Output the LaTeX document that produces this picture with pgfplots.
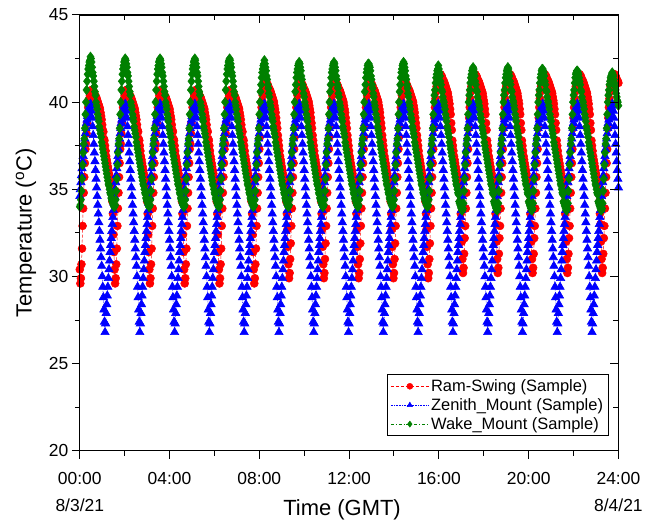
\documentclass[border=0pt]{standalone}
\usepackage{fontspec}
\setmainfont{Liberation Sans}
\usepackage{pgfplots}
\usepackage{pgfplotstable}
\pgfplotsset{compat=1.18}
\definecolor{ogreen}{RGB}{0,128,0}
\pgfplotstableread{
t r z w
0 30.4 34.6 34.0
1.5 29.6 35.0 34.1
3 29.9 35.4 34.4
4.5 30.7 35.8 34.9
6 31.6 36.2 35.6
7.5 32.9 36.6 36.4
9 33.9 36.9 37.1
10.5 34.8 37.3 37.6
12 35.7 37.6 37.9
13.5 36.5 37.9 38.5
15 37.3 38.2 39.3
16.5 37.6 38.5 40.0
18 38.2 38.8 40.7
19.5 38.8 39.0 41.2
21 39.3 39.2 41.6
22.5 39.7 39.4 41.9
24 40.0 39.6 42.1
25.5 40.2 39.7 42.3
27 40.4 39.8 42.4
28.5 40.5 39.9 42.6
30 40.6 39.8 42.5
31.5 40.7 39.5 42.3
33 40.7 39.1 42.0
34.5 40.7 38.6 41.7
36 40.6 38.1 41.5
37.5 40.6 37.6 41.2
39 40.5 37.1 40.9
40.5 40.4 36.6 40.6
42 40.3 36.1 40.4
43.5 40.3 35.6 40.0
45 40.2 35.1 39.8
46.5 40.1 34.6 39.6
48 40.0 34.1 39.3
49.5 39.9 33.6 39.1
51 39.8 33.1 38.9
52.5 39.7 32.6 38.6
54 39.6 32.1 38.4
55.5 39.4 31.6 38.2
57 39.2 31.1 38.0
58.5 39.0 30.6 37.7
60 38.7 30.0 37.5
61.5 38.4 29.4 37.3
63 38.3 28.8 37.1
64.5 37.9 28.1 36.9
66 37.8 27.4 36.7
67.5 37.5 26.8 36.5
69 37.2 27.3 36.3
70.5 36.9 27.9 36.1
72 36.7 28.4 35.9
73.5 36.5 28.9 35.7
75 36.3 29.4 35.5
76.5 36.1 29.9 35.3
78 35.9 30.4 35.2
79.5 35.7 30.9 35.0
81 35.5 31.4 34.8
82.5 35.3 31.8 34.7
84 35.1 32.2 34.5
85.5 34.8 32.6 34.4
87 34.3 33.0 34.3
88.5 33.6 33.4 34.2
90 32.4 33.8 34.1
91.5 31.4 34.2 34.0
93 30.4 34.6 34.0
94.5 29.6 35.0 34.1
96 29.9 35.4 34.4
97.5 30.7 35.8 34.9
99 31.6 36.2 35.6
100.5 32.9 36.6 36.4
102 33.9 36.9 37.1
103.5 34.8 37.3 37.6
105 35.7 37.6 37.9
106.5 36.5 37.9 38.5
108 37.3 38.2 39.3
109.5 37.6 38.5 40.0
111 38.2 38.8 40.7
112.5 38.8 39.0 41.2
114 39.3 39.2 41.6
115.5 39.7 39.4 41.9
117 40.0 39.6 42.1
118.5 40.2 39.7 42.3
120 40.4 39.8 42.4
121.5 40.5 39.9 42.5
123 40.6 39.8 42.4
124.5 40.7 39.5 42.2
126 40.7 39.1 42.0
127.5 40.7 38.6 41.7
129 40.6 38.1 41.5
130.5 40.6 37.6 41.2
132 40.5 37.1 40.9
133.5 40.4 36.6 40.6
135 40.3 36.1 40.4
136.5 40.3 35.6 40.0
138 40.2 35.1 39.8
139.5 40.1 34.6 39.6
141 40.0 34.1 39.3
142.5 39.9 33.6 39.1
144 39.8 33.1 38.9
145.5 39.7 32.6 38.6
147 39.6 32.1 38.4
148.5 39.4 31.6 38.2
150 39.2 31.1 38.0
151.5 39.0 30.6 37.7
153 38.7 30.0 37.5
154.5 38.4 29.4 37.3
156 38.3 28.8 37.1
157.5 37.9 28.1 36.9
159 37.8 27.4 36.7
160.5 37.5 26.8 36.5
162 37.2 27.3 36.3
163.5 36.9 27.9 36.1
165 36.7 28.4 35.9
166.5 36.5 28.9 35.7
168 36.3 29.4 35.5
169.5 36.1 29.9 35.3
171 35.9 30.4 35.2
172.5 35.7 30.9 35.0
174 35.5 31.4 34.8
175.5 35.3 31.8 34.7
177 35.1 32.2 34.5
178.5 34.8 32.6 34.4
180 34.3 33.0 34.3
181.5 33.6 33.4 34.2
183 32.4 33.8 34.1
184.5 31.4 34.2 34.0
186 30.4 34.6 34.0
187.5 29.6 35.0 34.1
189 29.9 35.4 34.4
190.5 30.7 35.8 34.9
192 31.6 36.2 35.6
193.5 32.9 36.6 36.4
195 33.9 36.9 37.1
196.5 34.8 37.3 37.6
198 35.7 37.6 37.9
199.5 36.5 37.9 38.5
201 37.3 38.2 39.3
202.5 37.6 38.5 40.0
204 38.2 38.8 40.7
205.5 38.8 39.0 41.2
207 39.3 39.2 41.6
208.5 39.7 39.4 41.9
210 40.0 39.6 42.1
211.5 40.2 39.7 42.3
213 40.4 39.8 42.4
214.5 40.5 39.9 42.5
216 40.6 39.8 42.4
217.5 40.7 39.5 42.2
219 40.7 39.1 42.0
220.5 40.7 38.6 41.7
222 40.6 38.1 41.5
223.5 40.6 37.6 41.2
225 40.5 37.1 40.9
226.5 40.4 36.6 40.6
228 40.3 36.1 40.4
229.5 40.3 35.6 40.0
231 40.2 35.1 39.8
232.5 40.1 34.6 39.6
234 40.0 34.1 39.3
235.5 39.9 33.6 39.1
237 39.8 33.1 38.9
238.5 39.7 32.6 38.6
240 39.6 32.1 38.4
241.5 39.4 31.6 38.2
243 39.2 31.1 38.0
244.5 39.0 30.6 37.7
246 38.7 30.0 37.5
247.5 38.4 29.4 37.3
249 38.3 28.8 37.1
250.5 37.9 28.1 36.9
252 37.8 27.4 36.7
253.5 37.5 26.8 36.5
255 37.2 27.3 36.3
256.5 36.9 27.9 36.1
258 36.7 28.4 35.9
259.5 36.5 28.9 35.7
261 36.3 29.4 35.5
262.5 36.1 29.9 35.3
264 35.9 30.4 35.2
265.5 35.7 30.9 35.0
267 35.5 31.4 34.8
268.5 35.3 31.8 34.7
270 35.1 32.2 34.5
271.5 34.8 32.6 34.4
273 34.3 33.0 34.3
274.5 33.6 33.4 34.2
276 32.4 33.8 34.1
277.5 31.4 34.2 34.0
279 30.4 34.6 34.0
280.5 29.6 35.0 34.1
282 29.9 35.4 34.4
283.5 30.7 35.8 34.9
285 31.6 36.2 35.6
286.5 32.9 36.6 36.4
288 33.9 36.9 37.1
289.5 34.8 37.3 37.6
291 35.7 37.6 37.9
292.5 36.5 37.9 38.5
294 37.3 38.2 39.3
295.5 37.6 38.5 40.0
297 38.2 38.8 40.7
298.5 38.8 39.0 41.2
300 39.3 39.2 41.6
301.5 39.7 39.4 41.9
303 40.0 39.6 42.1
304.5 40.2 39.7 42.3
306 40.4 39.8 42.4
307.5 40.5 39.9 42.5
309 40.6 39.8 42.4
310.5 40.7 39.5 42.2
312 40.7 39.1 42.0
313.5 40.7 38.6 41.7
315 40.6 38.1 41.5
316.5 40.6 37.6 41.2
318 40.5 37.1 40.9
319.5 40.4 36.6 40.6
321 40.3 36.1 40.4
322.5 40.3 35.6 40.0
324 40.2 35.1 39.8
325.5 40.1 34.6 39.6
327 40.0 34.1 39.3
328.5 39.9 33.6 39.1
330 39.8 33.1 38.9
331.5 39.7 32.6 38.6
333 39.6 32.1 38.4
334.5 39.4 31.6 38.2
336 39.2 31.1 38.0
337.5 39.0 30.6 37.7
339 38.7 30.0 37.5
340.5 38.4 29.4 37.3
342 38.3 28.8 37.1
343.5 37.9 28.1 36.9
345 37.8 27.4 36.7
346.5 37.5 26.8 36.5
348 37.2 27.3 36.3
349.5 36.9 27.9 36.1
351 36.7 28.4 35.9
352.5 36.5 28.9 35.7
354 36.3 29.4 35.5
355.5 36.1 29.9 35.3
357 35.9 30.4 35.2
358.5 35.7 30.9 35.0
360 35.5 31.4 34.8
361.5 35.3 31.8 34.7
363 35.1 32.2 34.5
364.5 34.8 32.6 34.4
366 34.3 33.0 34.3
367.5 33.6 33.4 34.2
369 32.4 33.8 34.1
370.5 31.4 34.2 34.0
372 30.4 34.6 34.0
373.5 29.6 35.0 34.1
375 29.9 35.4 34.4
376.5 30.7 35.8 34.9
378 31.6 36.2 35.6
379.5 32.9 36.6 36.4
381 33.9 36.9 37.1
382.5 34.8 37.3 37.6
384 35.7 37.6 37.9
385.5 36.5 37.9 38.5
387 37.3 38.2 39.3
388.5 37.6 38.5 40.0
390 38.2 38.8 40.7
391.5 38.8 39.0 41.2
393 39.3 39.2 41.6
394.5 39.7 39.4 41.9
396 40.0 39.6 42.1
397.5 40.2 39.7 42.3
399 40.4 39.8 42.4
400.5 40.5 39.9 42.5
402 40.6 39.8 42.4
403.5 40.7 39.5 42.2
405 40.7 39.1 42.0
406.5 40.7 38.6 41.7
408 40.6 38.1 41.5
409.5 40.6 37.6 41.2
411 40.5 37.1 40.9
412.5 40.4 36.6 40.6
414 40.3 36.1 40.4
415.5 40.3 35.6 40.0
417 40.2 35.1 39.8
418.5 40.1 34.6 39.6
420 40.0 34.1 39.3
421.5 39.9 33.6 39.1
423 39.8 33.1 38.9
424.5 39.7 32.6 38.6
426 39.6 32.1 38.4
427.5 39.4 31.6 38.2
429 39.2 31.1 38.0
430.5 39.0 30.6 37.7
432 38.7 30.0 37.5
433.5 38.4 29.4 37.3
435 38.3 28.8 37.1
436.5 37.9 28.1 36.9
438 37.8 27.4 36.7
439.5 37.5 26.8 36.5
441 37.2 27.3 36.3
442.5 36.9 27.9 36.1
444 36.7 28.4 35.9
445.5 36.5 28.9 35.7
447 36.3 29.4 35.5
448.5 36.1 29.9 35.3
450 35.9 30.4 35.2
451.5 35.7 30.9 35.0
453 35.5 31.4 34.8
454.5 35.3 31.8 34.7
456 35.1 32.2 34.5
457.5 34.8 32.6 34.4
459 34.3 33.0 34.3
460.5 33.6 33.4 34.2
462 32.4 33.8 34.1
463.5 31.4 34.2 34.0
465 30.4 34.6 34.0
466.5 29.6 35.0 34.1
468 29.9 35.4 34.4
469.5 30.7 35.8 34.9
471 31.6 36.2 35.6
472.5 32.9 36.6 36.4
474 33.9 36.9 37.1
475.5 34.8 37.3 37.6
477 35.7 37.6 37.9
478.5 36.5 37.9 38.5
480 37.3 38.2 39.3
481.5 38.0 38.5 40.0
483 38.6 38.8 40.6
484.5 39.2 39.0 41.0
486 39.7 39.2 41.4
487.5 40.1 39.4 41.7
489 40.4 39.6 41.9
490.5 40.6 39.7 42.1
492 40.8 39.8 42.2
493.5 40.9 39.9 42.4
495 41.0 39.8 42.2
496.5 41.1 39.5 42.0
498 41.1 39.1 41.8
499.5 41.1 38.6 41.5
501 41.0 38.1 41.3
502.5 41.0 37.6 41.0
504 40.9 37.1 40.8
505.5 40.8 36.6 40.5
507 40.7 36.1 40.3
508.5 40.7 35.6 40.0
510 40.6 35.1 39.8
511.5 40.5 34.6 39.6
513 40.4 34.1 39.3
514.5 40.3 33.6 39.1
516 40.2 33.1 38.9
517.5 40.1 32.6 38.6
519 40.0 32.1 38.4
520.5 39.8 31.6 38.2
522 39.6 31.1 38.0
523.5 39.4 30.6 37.7
525 39.1 30.0 37.5
526.5 38.8 29.4 37.3
528 38.5 28.8 37.1
529.5 38.1 28.1 36.9
531 37.8 27.4 36.7
532.5 37.5 26.8 36.5
534 37.2 27.3 36.3
535.5 36.9 27.9 36.1
537 36.7 28.4 35.9
538.5 36.5 28.9 35.7
540 36.3 29.4 35.5
541.5 36.1 29.9 35.3
543 35.9 30.4 35.2
544.5 35.7 30.9 35.0
546 35.5 31.4 34.8
547.5 35.3 31.8 34.7
549 35.1 32.2 34.5
550.5 34.8 32.6 34.4
552 34.3 33.0 34.3
553.5 33.6 33.4 34.2
555 32.7 33.8 34.1
556.5 31.7 34.2 34.0
558 30.7 34.6 34.0
559.5 29.9 35.0 34.1
561 30.2 35.4 34.4
562.5 31.0 35.8 34.9
564 31.9 36.2 35.6
565.5 32.9 36.6 36.4
567 33.9 36.9 37.1
568.5 34.8 37.3 37.6
570 35.7 37.6 37.9
571.5 36.5 37.9 38.5
573 37.3 38.2 39.3
574.5 38.0 38.5 40.0
576 38.6 38.8 40.6
577.5 39.2 39.0 41.0
579 39.7 39.2 41.4
580.5 40.1 39.4 41.7
582 40.4 39.6 41.9
583.5 40.6 39.7 42.1
585 40.8 39.8 42.2
586.5 40.9 39.9 42.3
588 41.0 39.8 42.2
589.5 41.1 39.5 42.0
591 41.1 39.1 41.8
592.5 41.1 38.6 41.5
594 41.0 38.1 41.3
595.5 41.0 37.6 41.0
597 40.9 37.1 40.8
598.5 40.8 36.6 40.5
600 40.7 36.1 40.3
601.5 40.7 35.6 40.0
603 40.6 35.1 39.8
604.5 40.5 34.6 39.6
606 40.4 34.1 39.3
607.5 40.3 33.6 39.1
609 40.2 33.1 38.9
610.5 40.1 32.6 38.6
612 40.0 32.1 38.4
613.5 39.8 31.6 38.2
615 39.6 31.1 38.0
616.5 39.4 30.6 37.7
618 39.1 30.0 37.5
619.5 38.8 29.4 37.3
621 38.5 28.8 37.1
622.5 38.1 28.1 36.9
624 37.8 27.4 36.7
625.5 37.5 26.8 36.5
627 37.2 27.3 36.3
628.5 36.9 27.9 36.1
630 36.7 28.4 35.9
631.5 36.5 28.9 35.7
633 36.3 29.4 35.5
634.5 36.1 29.9 35.3
636 35.9 30.4 35.2
637.5 35.7 30.9 35.0
639 35.5 31.4 34.8
640.5 35.3 31.8 34.7
642 35.1 32.2 34.5
643.5 34.8 32.6 34.4
645 34.3 33.0 34.3
646.5 33.6 33.4 34.2
648 32.7 33.8 34.1
649.5 31.7 34.2 34.0
651 30.7 34.6 34.0
652.5 29.9 35.0 34.1
654 30.2 35.4 34.4
655.5 31.0 35.8 34.9
657 31.9 36.2 35.6
658.5 32.9 36.6 36.4
660 33.9 36.9 37.1
661.5 34.8 37.3 37.6
663 35.7 37.6 37.9
664.5 36.5 37.9 38.5
666 37.3 38.2 39.3
667.5 38.0 38.5 40.0
669 38.6 38.8 40.6
670.5 39.2 39.0 41.0
672 39.7 39.2 41.4
673.5 40.1 39.4 41.7
675 40.4 39.6 41.9
676.5 40.6 39.7 42.1
678 40.8 39.8 42.2
679.5 40.9 39.9 42.3
681 41.0 39.8 42.2
682.5 41.1 39.5 42.0
684 41.1 39.1 41.8
685.5 41.1 38.6 41.5
687 41.0 38.1 41.3
688.5 41.0 37.6 41.0
690 40.9 37.1 40.8
691.5 40.8 36.6 40.5
693 40.7 36.1 40.3
694.5 40.7 35.6 40.0
696 40.6 35.1 39.8
697.5 40.5 34.6 39.6
699 40.4 34.1 39.3
700.5 40.3 33.6 39.1
702 40.2 33.1 38.9
703.5 40.1 32.6 38.6
705 40.0 32.1 38.4
706.5 39.8 31.6 38.2
708 39.6 31.1 38.0
709.5 39.4 30.6 37.7
711 39.1 30.0 37.5
712.5 38.8 29.4 37.3
714 38.5 28.8 37.1
715.5 38.1 28.1 36.9
717 37.8 27.4 36.7
718.5 37.5 26.8 36.5
720 37.2 27.3 36.3
721.5 36.9 27.9 36.1
723 36.7 28.4 35.9
724.5 36.5 28.9 35.7
726 36.3 29.4 35.5
727.5 36.1 29.9 35.3
729 35.9 30.4 35.2
730.5 35.7 30.9 35.0
732 35.5 31.4 34.8
733.5 35.3 31.8 34.7
735 35.1 32.2 34.5
736.5 34.8 32.6 34.4
738 34.3 33.0 34.3
739.5 33.6 33.4 34.2
741 32.7 33.8 34.1
742.5 31.7 34.2 34.0
744 30.7 34.6 34.0
745.5 29.9 35.0 34.1
747 30.2 35.4 34.4
748.5 31.0 35.8 34.9
750 31.9 36.2 35.6
751.5 32.9 36.6 36.4
753 33.9 36.9 37.1
754.5 34.8 37.3 37.6
756 35.7 37.6 37.9
757.5 36.5 37.9 38.5
759 37.3 38.2 39.3
760.5 38.0 38.5 40.0
762 38.6 38.8 40.6
763.5 39.2 39.0 41.0
765 39.7 39.2 41.4
766.5 40.1 39.4 41.7
768 40.4 39.6 41.9
769.5 40.6 39.7 42.1
771 40.8 39.8 42.2
772.5 40.9 39.9 42.2
774 41.0 39.8 42.1
775.5 41.1 39.5 42.0
777 41.1 39.1 41.8
778.5 41.1 38.6 41.5
780 41.0 38.1 41.3
781.5 41.0 37.6 41.0
783 40.9 37.1 40.8
784.5 40.8 36.6 40.5
786 40.7 36.1 40.3
787.5 40.7 35.6 40.0
789 40.6 35.1 39.8
790.5 40.5 34.6 39.6
792 40.4 34.1 39.3
793.5 40.3 33.6 39.1
795 40.2 33.1 38.9
796.5 40.1 32.6 38.6
798 40.0 32.1 38.4
799.5 39.8 31.6 38.2
801 39.6 31.1 38.0
802.5 39.4 30.6 37.7
804 39.1 30.0 37.5
805.5 38.8 29.4 37.3
807 38.5 28.8 37.1
808.5 38.1 28.1 36.9
810 37.8 27.4 36.7
811.5 37.5 26.8 36.5
813 37.2 27.3 36.3
814.5 36.9 27.9 36.1
816 36.7 28.4 35.9
817.5 36.5 28.9 35.7
819 36.3 29.4 35.5
820.5 36.1 29.9 35.3
822 35.9 30.4 35.2
823.5 35.7 30.9 35.0
825 35.5 31.4 34.8
826.5 35.3 31.8 34.7
828 35.1 32.2 34.5
829.5 34.8 32.6 34.4
831 34.3 33.0 34.3
832.5 33.6 33.4 34.2
834 32.7 33.8 34.1
835.5 31.7 34.2 34.0
837 30.7 34.6 34.0
838.5 29.9 35.0 34.1
840 30.2 35.4 34.4
841.5 31.0 35.8 34.9
843 31.9 36.2 35.6
844.5 32.9 36.6 36.4
846 33.9 36.9 37.1
847.5 34.8 37.3 37.6
849 35.7 37.6 37.9
850.5 36.5 37.9 38.5
852 37.3 38.2 39.3
853.5 38.0 38.5 40.0
855 38.6 38.8 40.6
856.5 39.2 39.0 41.0
858 39.7 39.2 41.4
859.5 40.1 39.4 41.7
861 40.4 39.6 41.9
862.5 40.6 39.7 42.1
864 40.8 39.8 42.2
865.5 40.9 39.9 42.3
867 41.0 39.8 42.2
868.5 41.1 39.5 42.0
870 41.1 39.1 41.8
871.5 41.1 38.6 41.5
873 41.0 38.1 41.3
874.5 41.0 37.6 41.0
876 40.9 37.1 40.8
877.5 40.8 36.6 40.5
879 40.7 36.1 40.3
880.5 40.7 35.6 40.0
882 40.6 35.1 39.8
883.5 40.5 34.6 39.6
885 40.4 34.1 39.3
886.5 40.3 33.6 39.1
888 40.2 33.1 38.9
889.5 40.1 32.6 38.6
891 40.0 32.1 38.4
892.5 39.8 31.6 38.2
894 39.6 31.1 38.0
895.5 39.4 30.6 37.7
897 39.1 30.0 37.5
898.5 38.8 29.4 37.3
900 38.5 28.8 37.1
901.5 38.1 28.1 36.9
903 37.8 27.4 36.7
904.5 37.5 26.8 36.5
906 37.2 27.3 36.3
907.5 36.9 27.9 36.1
909 36.7 28.4 35.9
910.5 36.5 28.9 35.7
912 36.3 29.4 35.5
913.5 36.1 29.9 35.3
915 35.9 30.4 35.2
916.5 35.7 30.9 35.0
918 35.5 31.4 34.8
919.5 35.3 31.8 34.7
921 35.1 32.2 34.5
922.5 34.8 32.6 34.4
924 34.3 33.0 34.3
925.5 33.6 33.4 34.2
927 32.7 33.8 34.1
928.5 31.7 34.2 34.0
930 30.7 34.6 34.0
931.5 29.9 35.0 34.1
933 30.2 35.4 34.4
934.5 31.0 35.8 34.9
936 31.9 36.2 35.6
937.5 32.9 36.6 36.4
939 33.9 36.9 37.1
940.5 34.8 37.3 37.6
942 35.7 37.6 37.9
943.5 36.5 37.9 38.5
945 37.3 38.2 39.3
946.5 38.5 38.5 40.0
948 39.1 38.8 40.4
949.5 39.7 39.0 40.7
951 40.2 39.2 41.1
952.5 40.6 39.4 41.4
954 40.9 39.6 41.6
955.5 41.1 39.7 41.8
957 41.3 39.8 41.9
958.5 41.4 39.9 42.1
960 41.5 39.8 41.9
961.5 41.6 39.5 41.7
963 41.6 39.1 41.5
964.5 41.6 38.6 41.2
966 41.5 38.1 41.0
967.5 41.5 37.6 40.7
969 41.4 37.1 40.6
970.5 41.3 36.6 40.3
972 41.2 36.1 40.1
973.5 41.2 35.6 40.0
975 41.1 35.1 39.8
976.5 41.0 34.6 39.6
978 40.9 34.1 39.3
979.5 40.8 33.6 39.1
981 40.7 33.1 38.9
982.5 40.6 32.6 38.6
984 40.5 32.1 38.4
985.5 40.3 31.6 38.2
987 40.1 31.1 38.0
988.5 39.9 30.6 37.7
990 39.6 30.0 37.5
991.5 39.3 29.4 37.3
993 38.8 28.8 37.1
994.5 38.4 28.1 36.9
996 37.8 27.4 36.7
997.5 37.5 26.8 36.5
999 37.2 27.3 36.3
1000.5 36.9 27.9 36.1
1002 36.7 28.4 35.9
1003.5 36.5 28.9 35.7
1005 36.3 29.4 35.5
1006.5 36.1 29.9 35.3
1008 35.9 30.4 35.2
1009.5 35.7 30.9 35.0
1011 35.5 31.4 34.8
1012.5 35.3 31.8 34.7
1014 35.1 32.2 34.3
1015.5 34.8 32.6 34.2
1017 34.3 33.0 34.1
1018.5 33.6 33.4 34.0
1020 33.0 33.8 33.9
1021.5 32.0 34.2 33.8
1023 31.0 34.6 33.8
1024.5 30.2 35.0 33.9
1026 30.5 35.4 34.2
1027.5 31.3 35.8 34.9
1029 32.2 36.2 35.6
1030.5 32.9 36.6 36.4
1032 33.9 36.9 37.1
1033.5 34.8 37.3 37.6
1035 35.7 37.6 37.9
1036.5 36.5 37.9 38.5
1038 37.3 38.2 39.3
1039.5 38.5 38.5 40.0
1041 39.1 38.8 40.4
1042.5 39.7 39.0 40.7
1044 40.2 39.2 41.1
1045.5 40.6 39.4 41.4
1047 40.9 39.6 41.6
1048.5 41.1 39.7 41.8
1050 41.3 39.8 41.9
1051.5 41.4 39.9 42.0
1053 41.5 39.8 41.9
1054.5 41.6 39.5 41.7
1056 41.6 39.1 41.5
1057.5 41.6 38.6 41.2
1059 41.5 38.1 41.0
1060.5 41.5 37.6 40.7
1062 41.4 37.1 40.6
1063.5 41.3 36.6 40.3
1065 41.2 36.1 40.1
1066.5 41.2 35.6 40.0
1068 41.1 35.1 39.8
1069.5 41.0 34.6 39.6
1071 40.9 34.1 39.3
1072.5 40.8 33.6 39.1
1074 40.7 33.1 38.9
1075.5 40.6 32.6 38.6
1077 40.5 32.1 38.4
1078.5 40.3 31.6 38.2
1080 40.1 31.1 38.0
1081.5 39.9 30.6 37.7
1083 39.6 30.0 37.5
1084.5 39.3 29.4 37.3
1086 38.8 28.8 37.1
1087.5 38.4 28.1 36.9
1089 37.8 27.4 36.7
1090.5 37.5 26.8 36.5
1092 37.2 27.3 36.3
1093.5 36.9 27.9 36.1
1095 36.7 28.4 35.9
1096.5 36.5 28.9 35.7
1098 36.3 29.4 35.5
1099.5 36.1 29.9 35.3
1101 35.9 30.4 35.2
1102.5 35.7 30.9 35.0
1104 35.5 31.4 34.8
1105.5 35.3 31.8 34.7
1107 35.1 32.2 34.3
1108.5 34.8 32.6 34.2
1110 34.3 33.0 34.1
1111.5 33.6 33.4 34.0
1113 33.0 33.8 33.9
1114.5 32.0 34.2 33.8
1116 31.0 34.6 33.8
1117.5 30.2 35.0 33.9
1119 30.5 35.4 34.2
1120.5 31.3 35.8 34.9
1122 32.2 36.2 35.6
1123.5 32.9 36.6 36.4
1125 33.9 36.9 37.1
1126.5 34.8 37.3 37.6
1128 35.7 37.6 37.9
1129.5 36.5 37.9 38.5
1131 37.3 38.2 39.3
1132.5 38.5 38.5 40.0
1134 39.1 38.8 40.4
1135.5 39.7 39.0 40.7
1137 40.2 39.2 41.1
1138.5 40.6 39.4 41.4
1140 40.9 39.6 41.6
1141.5 41.1 39.7 41.8
1143 41.3 39.8 41.9
1144.5 41.4 39.9 42.0
1146 41.5 39.8 41.9
1147.5 41.6 39.5 41.7
1149 41.6 39.1 41.5
1150.5 41.6 38.6 41.2
1152 41.5 38.1 41.0
1153.5 41.5 37.6 40.7
1155 41.4 37.1 40.6
1156.5 41.3 36.6 40.3
1158 41.2 36.1 40.1
1159.5 41.2 35.6 40.0
1161 41.1 35.1 39.8
1162.5 41.0 34.6 39.6
1164 40.9 34.1 39.3
1165.5 40.8 33.6 39.1
1167 40.7 33.1 38.9
1168.5 40.6 32.6 38.6
1170 40.5 32.1 38.4
1171.5 40.3 31.6 38.2
1173 40.1 31.1 38.0
1174.5 39.9 30.6 37.7
1176 39.6 30.0 37.5
1177.5 39.3 29.4 37.3
1179 38.8 28.8 37.1
1180.5 38.4 28.1 36.9
1182 37.8 27.4 36.7
1183.5 37.5 26.8 36.5
1185 37.2 27.3 36.3
1186.5 36.9 27.9 36.1
1188 36.7 28.4 35.9
1189.5 36.5 28.9 35.7
1191 36.3 29.4 35.5
1192.5 36.1 29.9 35.3
1194 35.9 30.4 35.2
1195.5 35.7 30.9 35.0
1197 35.5 31.4 34.8
1198.5 35.3 31.8 34.7
1200 35.1 32.2 34.3
1201.5 34.8 32.6 34.2
1203 34.3 33.0 34.1
1204.5 33.6 33.4 34.0
1206 33.0 33.8 33.9
1207.5 32.0 34.2 33.8
1209 31.0 34.6 33.8
1210.5 30.2 35.0 33.9
1212 30.5 35.4 34.2
1213.5 31.3 35.8 34.9
1215 32.2 36.2 35.6
1216.5 32.9 36.6 36.4
1218 33.9 36.9 37.1
1219.5 34.8 37.3 37.6
1221 35.7 37.6 37.9
1222.5 36.5 37.9 38.5
1224 37.3 38.2 39.3
1225.5 38.5 38.5 40.0
1227 39.1 38.8 40.4
1228.5 39.7 39.0 40.7
1230 40.2 39.2 41.1
1231.5 40.6 39.4 41.4
1233 40.9 39.6 41.6
1234.5 41.1 39.7 41.8
1236 41.3 39.8 41.9
1237.5 41.4 39.9 41.9
1239 41.5 39.8 41.8
1240.5 41.6 39.5 41.7
1242 41.6 39.1 41.5
1243.5 41.6 38.6 41.2
1245 41.5 38.1 41.0
1246.5 41.5 37.6 40.7
1248 41.4 37.1 40.6
1249.5 41.3 36.6 40.3
1251 41.2 36.1 40.1
1252.5 41.2 35.6 40.0
1254 41.1 35.1 39.8
1255.5 41.0 34.6 39.6
1257 40.9 34.1 39.3
1258.5 40.8 33.6 39.1
1260 40.7 33.1 38.9
1261.5 40.6 32.6 38.6
1263 40.5 32.1 38.4
1264.5 40.3 31.6 38.2
1266 40.1 31.1 38.0
1267.5 39.9 30.6 37.7
1269 39.6 30.0 37.5
1270.5 39.3 29.4 37.3
1272 38.8 28.8 37.1
1273.5 38.4 28.1 36.9
1275 37.8 27.4 36.7
1276.5 37.5 26.8 36.5
1278 37.2 27.3 36.3
1279.5 36.9 27.9 36.1
1281 36.7 28.4 35.9
1282.5 36.5 28.9 35.7
1284 36.3 29.4 35.5
1285.5 36.1 29.9 35.3
1287 35.9 30.4 35.2
1288.5 35.7 30.9 35.0
1290 35.5 31.4 34.8
1291.5 35.3 31.8 34.7
1293 35.1 32.2 34.3
1294.5 34.8 32.6 34.2
1296 34.3 33.0 34.1
1297.5 33.6 33.4 34.0
1299 33.0 33.8 33.9
1300.5 32.0 34.2 33.8
1302 31.0 34.6 33.8
1303.5 30.2 35.0 33.9
1305 30.5 35.4 34.2
1306.5 31.3 35.8 34.9
1308 32.2 36.2 35.6
1309.5 32.9 36.6 36.4
1311 33.9 36.9 37.1
1312.5 34.8 37.3 37.6
1314 35.7 37.6 37.9
1315.5 36.5 37.9 38.5
1317 37.3 38.2 39.3
1318.5 38.5 38.5 40.0
1320 39.1 38.8 40.4
1321.5 39.7 39.0 40.7
1323 40.2 39.2 41.1
1324.5 40.6 39.4 41.4
1326 40.9 39.6 41.6
1327.5 41.1 39.7 41.7
1329 41.3 39.8 41.8
1330.5 41.4 39.9 41.8
1332 41.5 39.8 41.7
1333.5 41.6 39.5 41.6
1335 41.6 39.1 41.4
1336.5 41.6 38.6 41.2
1338 41.5 38.1 41.0
1339.5 41.5 37.6 40.7
1341 41.4 37.1 40.6
1342.5 41.3 36.6 40.3
1344 41.2 36.1 40.1
1345.5 41.2 35.6 40.0
1347 41.1 35.1 39.8
1348.5 41.0 34.6 39.6
1350 40.9 34.1 39.3
1351.5 40.8 33.6 39.1
1353 40.7 33.1 38.9
1354.5 40.6 32.6 38.6
1356 40.5 32.1 38.4
1357.5 40.3 31.6 38.2
1359 40.1 31.1 38.0
1360.5 39.9 30.6 37.7
1362 39.6 30.0 37.5
1363.5 39.3 29.4 37.3
1365 38.8 28.8 37.1
1366.5 38.4 28.1 36.9
1368 37.8 27.4 36.7
1369.5 37.5 26.8 36.5
1371 37.2 27.3 36.3
1372.5 36.9 27.9 36.1
1374 36.7 28.4 35.9
1375.5 36.5 28.9 35.7
1377 36.3 29.4 35.5
1378.5 36.1 29.9 35.3
1380 35.9 30.4 35.2
1381.5 35.7 30.9 35.0
1383 35.5 31.4 34.8
1384.5 35.3 31.8 34.7
1386 35.1 32.2 34.3
1387.5 34.8 32.6 34.2
1389 34.3 33.0 34.1
1390.5 33.6 33.4 34.0
1392 33.0 33.8 33.9
1393.5 32.0 34.2 33.8
1395 31.0 34.6 33.8
1396.5 30.2 35.0 33.9
1398 30.5 35.4 34.2
1399.5 31.3 35.8 34.9
1401 32.2 36.2 35.6
1402.5 32.9 36.6 36.4
1404 33.9 36.9 37.1
1405.5 34.8 37.3 37.6
1407 35.7 37.6 37.9
1408.5 36.5 37.9 38.5
1410 37.3 38.2 39.3
1411.5 38.5 38.5 40.0
1413 39.1 38.8 40.4
1414.5 39.7 39.0 40.7
1416 40.2 39.2 41.0
1417.5 40.6 39.4 41.2
1419 40.9 39.6 41.4
1420.5 41.1 39.7 41.5
1422 41.3 39.8 41.6
1423.5 41.4 39.9 41.7
1425 41.5 39.8 41.6
1426.5 41.6 39.5 41.5
1428 41.6 39.1 41.3
1429.5 41.6 38.6 41.1
1431 41.5 38.1 40.9
1432.5 41.5 37.6 40.7
1434 41.4 37.1 40.5
1435.5 41.3 36.6 40.3
1437 41.2 36.1 40.1
1438.5 41.2 35.6 40.0
1440 41.1 35.1 39.8
}\datatable

\begin{document}
\begin{tikzpicture}
\begin{axis}[
  name=main,
  scale only axis, width=540pt, height=437pt,
  xmin=0, xmax=1440, ymin=20, ymax=45,
  xtick={0,240,480,720,960,1200,1440},
  xticklabels={{00:00\\[2pt]8/3/21},04:00,08:00,12:00,16:00,20:00,{24:00\\[2pt]8/4/21}},
  minor x tick num=1,
  ytick={20,25,30,35,40,45}, minor y tick num=1,
  xtick pos=left, ytick pos=left,
  tick align=outside,
  major tick length=8pt, minor tick length=5pt,
  every tick/.style={black, line width=1pt},
  axis line style={line width=1.1pt},
  /pgf/number format/assume math mode=true,
  tick label style={font=\fontsize{17.5}{25.5}\selectfont},
  xticklabel style={align=center, yshift=-10pt},
  xlabel={Time (GMT)},
  ylabel={Temperature (\textsuperscript{o}C)},
  label style={font=\fontsize{22}{26}\selectfont},
  xlabel style={at={(axis description cs:0.487,-0.136)}, anchor=center},
  ylabel style={at={(axis description cs:-0.1,0.5)}, anchor=center},
  legend style={at={(0.9815,0.0336)}, anchor=south east,
    font=\fontsize{16.5}{20}\selectfont, draw=black, line width=0.8pt,
    inner sep=3pt, row sep=1.5pt},
  legend cell align=left,
  legend image code/.code={%
    \draw[mark repeat=2,mark phase=2,mark size=3pt] plot coordinates {(0pt,0pt) (19pt,0pt) (38pt,0pt)};},
]
\addplot[red, densely dashed, line width=0.5pt, mark=*, mark size=4pt,
  mark options={solid, fill=red, draw=red}] table[x=t,y=r]{\datatable};
\addlegendentry{Ram-Swing (Sample)}
\addplot[blue, densely dotted, line width=0.6pt, mark=triangle*, mark size=4.8pt,
  mark options={solid, fill=blue, draw=blue}] table[x=t,y=z]{\datatable};
\addlegendentry{Zenith\_Mount (Sample)}
\addplot[ogreen, dash dot, line width=0.5pt, mark=diamond*, mark size=4.8pt,
  mark options={solid, fill=ogreen, draw=ogreen}] table[x=t,y=w]{\datatable};
\addlegendentry{Wake\_Mount (Sample)}
\end{axis}
\begin{axis}[
  scale only axis, width=540pt, height=437pt,
  xmin=0, xmax=1440, ymin=20, ymax=45,
  xtick={0,240,480,720,960,1200,1440}, minor x tick num=1,
  ytick={20,25,30,35,40,45}, minor y tick num=1,
  xtick pos=right, ytick pos=right, tick align=inside,
  xticklabels={}, yticklabels={},
  major tick length=8pt, minor tick length=5pt,
  every tick/.style={black, line width=1pt},
  axis line style={line width=1.1pt},
]
\end{axis}
\path ([xshift=-80pt,yshift=-72pt]main.south west) rectangle ([xshift=26pt,yshift=15pt]main.north east);
\end{tikzpicture}
\end{document}
